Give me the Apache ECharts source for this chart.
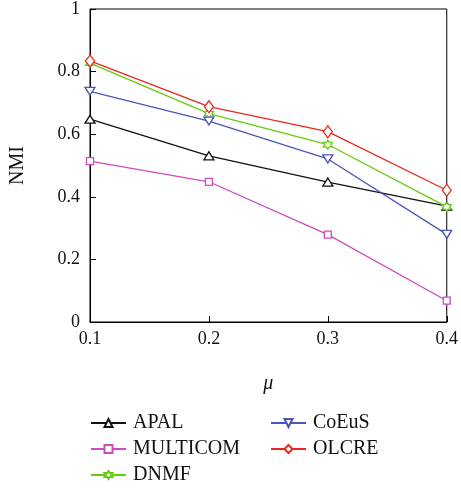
<!DOCTYPE html>
<html><head><meta charset="utf-8">
<script src="https://cdn.jsdelivr.net/npm/echarts@6/dist/echarts.min.js"></script>
<style>html,body{margin:0;padding:0;background:#fff}#c{width:461px;height:489px}</style>
</head><body><div id="c"></div>
<script>
var categories = ['0.1', '0.2', '0.3', '0.4'];
var apal = [0.648, 0.531, 0.447, 0.370];
var multicom = [0.514, 0.448, 0.279, 0.068];
var dnmf = [0.827, 0.666, 0.567, 0.368];
var coeus = [0.737, 0.642, 0.521, 0.280];
var olcre = [0.834, 0.688, 0.608, 0.421];
var seriesNames = ['APAL', 'MULTICOM', 'DNMF', 'CoEuS', 'OLCRE'];

var FONT = '"Liberation Serif", "DejaVu Serif", serif';
var star = 'path://M0,-1L0.289,-0.5L0.866,-0.5L0.577,0L0.866,0.5L0.289,0.5L0,1L-0.289,0.5L-0.866,0.5L-0.577,0L-0.866,-0.5L-0.289,-0.5Z';

function mk(name, data, color, symbol, size, rot) {
  return {
    name: name, type: 'line', data: data,
    symbol: symbol, symbolSize: size, symbolRotate: rot || 0,
    showAllSymbol: true,
    lineStyle: {color: color, width: 1.3},
    itemStyle: {color: '#fff', borderColor: color, borderWidth: 1.3},
    emphasis: {disabled: true},
    animation: false
  };
}

// legend positions: [name, left, rowCenterY]
var legendPos = [['APAL', 90, 421], ['MULTICOM', 90, 447], ['DNMF', 90, 473], ['CoEuS', 270, 421], ['OLCRE', 270, 447]];
var legends = legendPos.map(function (p) {
  return {
    data: [p[0]], left: p[1], top: p[2] - 8,
    itemWidth: 35, itemHeight: 10, padding: 0,
    textStyle: {fontFamily: FONT, fontSize: 20, color: '#111', padding: [0, 0, 0, 2]}
  };
});

var chart = echarts.init(document.getElementById('c'), null, {renderer: 'canvas'});
chart.setOption({
  animation: false,
  grid: {left: 90, right: 11, top: 9, bottom: 167, show: true, borderColor: '#000', borderWidth: 1},
  xAxis: {
    type: 'category', data: categories, boundaryGap: false,
    name: 'μ', nameLocation: 'middle', nameGap: 52,
    nameTextStyle: {fontFamily: FONT, fontSize: 20, fontStyle: 'italic', color: '#111'},
    axisLine: {lineStyle: {color: '#000', width: 1}},
    axisTick: {inside: true, length: 6, alignWithLabel: true, lineStyle: {color: '#000'}},
    axisLabel: {fontFamily: FONT, fontSize: 18, color: '#111', margin: 8},
    splitLine: {show: false}
  },
  yAxis: {
    type: 'value', min: 0, max: 1, interval: 0.2,
    name: 'NMI', nameLocation: 'middle', nameGap: 62,
    nameTextStyle: {fontFamily: FONT, fontSize: 20, color: '#111'},
    axisLine: {show: true, lineStyle: {color: '#000', width: 1}},
    axisTick: {show: true, inside: true, length: 6, lineStyle: {color: '#000'}},
    axisLabel: {fontFamily: FONT, fontSize: 18, color: '#111', margin: 10},
    splitLine: {show: false}
  },
  legend: legends,
  series: [
    mk('APAL', apal, '#111111', 'triangle', [10, 8]),
    mk('MULTICOM', multicom, '#cc4bbd', 'rect', 7),
    mk('DNMF', dnmf, '#66cc11', star, 9),
    mk('CoEuS', coeus, '#4a55b5', 'triangle', [10, 8], 180),
    mk('OLCRE', olcre, '#e8281e', 'diamond', [9, 12])
  ]
});
</script></body></html>
